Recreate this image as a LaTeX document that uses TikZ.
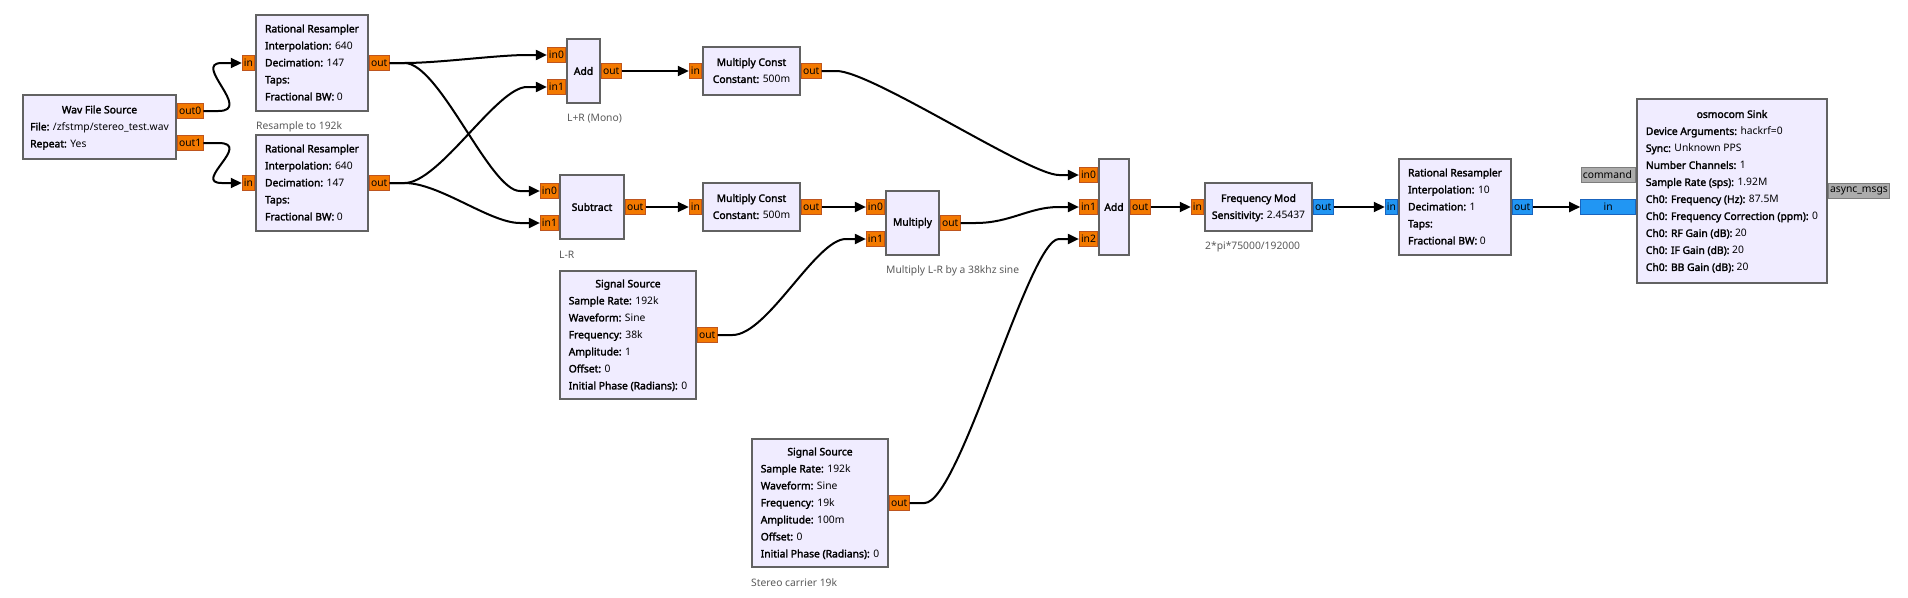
\documentclass[tikz,border=0pt]{standalone}
\usepackage{fontspec}
\setmainfont{Noto Sans}[BoldFont={Noto Sans}, BoldFeatures={FakeBold=2.2}]
\usepackage{array}
\usetikzlibrary{arrows.meta, calc, positioning}
\definecolor{blkfill}{RGB}{240,236,255}
\definecolor{blkedge}{RGB}{98,98,98}
\definecolor{fltport}{RGB}{243,121,0}
\definecolor{fltedge}{RGB}{190,85,30}
\definecolor{cpxport}{RGB}{33,150,243}
\definecolor{cpxedge}{RGB}{25,100,190}
\definecolor{msgport}{RGB}{172,172,172}
\definecolor{msgedge}{RGB}{125,125,125}
\definecolor{notegray}{RGB}{90,90,90}

\begin{document}
\begin{tikzpicture}[x=1pt, y=-1pt,
  blk/.style={draw=blkedge, line width=2pt, fill=blkfill, inner sep=0pt,
              font=\fontsize{10.3}{17}\selectfont},
  port/.style={line width=0.8pt, inner xsep=1.7pt, inner ysep=0pt,
               minimum height=15pt, font=\fontsize{10.3}{12}\selectfont},
  fport/.style={port, fill=fltport, draw=fltedge},
  cport/.style={port, fill=cpxport, draw=cpxedge},
  mport/.style={port, fill=msgport, draw=msgedge},
  note/.style={anchor=west, inner sep=0pt, text=notegray,
               font=\fontsize{10.3}{12}\selectfont},
  wire/.style={line width=2pt, -{Triangle[length=11pt, width=10pt]}},
  curvy/.style={to path={-- ++(15,0) .. controls +(35,0) and ($(\tikztotarget)+(-50,0)$)
                .. ($(\tikztotarget)+(-20,0)$) -- (\tikztotarget)}}
]
  \useasboundingbox[fill=white] (0,0) rectangle (1908,597);

  % Wav file source
  \node[blk, minimum width=153pt, minimum height=64pt] (wav) at (99.5,127)
    {\begin{tabular}{@{}l@{}}\multicolumn{1}{@{}c@{}}{\textbf{Wav File Source}}\\
     \textbf{File:} /zfstmp/stereo\_test.wav\\
     \textbf{Repeat:} Yes\end{tabular}};
  \node[fport, anchor=west] (wavo0) at ($(wav.east)+(0,-16)$) {out0};
  \node[fport, anchor=west] (wavo1) at ($(wav.east)+(0,16)$) {out1};

  % Resamplers to 192k
  \node[blk, minimum width=112pt, minimum height=96pt] (rr1) at (312,63)
    {\begin{tabular}{@{}l@{}}\multicolumn{1}{@{}c@{}}{\textbf{Rational Resampler}}\\
     \textbf{Interpolation:} 640\\
     \textbf{Decimation:} 147\\
     \textbf{Taps:}\\
     \textbf{Fractional BW:} 0\end{tabular}};
  \node[fport, anchor=east] (rr1i) at (rr1.west) {in};
  \node[fport, anchor=west] (rr1o) at (rr1.east) {out};
  \node[note] (rr1note) at ($(rr1.south west)+(1,15)$) {Resample to 192k};

  \node[blk, minimum width=112pt, minimum height=96pt] (rr2) at (312,183)
    {\begin{tabular}{@{}l@{}}\multicolumn{1}{@{}c@{}}{\textbf{Rational Resampler}}\\
     \textbf{Interpolation:} 640\\
     \textbf{Decimation:} 147\\
     \textbf{Taps:}\\
     \textbf{Fractional BW:} 0\end{tabular}};
  \node[fport, anchor=east] (rr2i) at (rr2.west) {in};
  \node[fport, anchor=west] (rr2o) at (rr2.east) {out};

  % L+R
  \node[blk, minimum width=33pt, minimum height=64pt] (add1) at (583.5,71)
    {\textbf{Add}};
  \node[fport, anchor=east] (add1i0) at ($(add1.west)+(0,-16)$) {in0};
  \node[fport, anchor=east] (add1i1) at ($(add1.west)+(0,16)$) {in1};
  \node[fport, anchor=west] (add1o) at (add1.east) {out};
  \node[note] (add1note) at ($(add1.south west)+(1,15)$) {L+R (Mono)};

  \node[blk, minimum width=97pt, minimum height=48pt] (mc1) at (751.5,71)
    {\begin{tabular}{@{}l@{}}\multicolumn{1}{@{}c@{}}{\textbf{Multiply Const}}\\
     \textbf{Constant:} 500m\end{tabular}};
  \node[fport, anchor=east] (mc1i) at (mc1.west) {in};
  \node[fport, anchor=west] (mc1o) at (mc1.east) {out};

  % L-R
  \node[blk, minimum width=64pt, minimum height=64pt] (sub) at (592,207)
    {\textbf{Subtract}};
  \node[fport, anchor=east] (subi0) at ($(sub.west)+(0,-16)$) {in0};
  \node[fport, anchor=east] (subi1) at ($(sub.west)+(0,16)$) {in1};
  \node[fport, anchor=west] (subo) at (sub.east) {out};
  \node[note] (subnote) at ($(sub.south west)+(0,15)$) {L-R};

  \node[blk, minimum width=97pt, minimum height=48pt] (mc2) at (751.5,207)
    {\begin{tabular}{@{}l@{}}\multicolumn{1}{@{}c@{}}{\textbf{Multiply Const}}\\
     \textbf{Constant:} 500m\end{tabular}};
  \node[fport, anchor=east] (mc2i) at (mc2.west) {in};
  \node[fport, anchor=west] (mc2o) at (mc2.east) {out};

  % 38k subcarrier
  \node[blk, minimum width=136pt, minimum height=128pt] (sig1) at (628,335)
    {\begin{tabular}{@{}l@{}}\multicolumn{1}{@{}c@{}}{\textbf{Signal Source}}\\
     \textbf{Sample Rate:} 192k\\
     \textbf{Waveform:} Sine\\
     \textbf{Frequency:} 38k\\
     \textbf{Amplitude:} 1\\
     \textbf{Offset:} 0\\
     \textbf{Initial Phase (Radians):} 0\end{tabular}};
  \node[fport, anchor=west] (sig1o) at (sig1.east) {out};

  \node[blk, minimum width=53pt, minimum height=64pt] (mul) at (912.5,223)
    {\textbf{Multiply}};
  \node[fport, anchor=east] (muli0) at ($(mul.west)+(0,-16)$) {in0};
  \node[fport, anchor=east] (muli1) at ($(mul.west)+(0,16)$) {in1};
  \node[fport, anchor=west] (mulo) at (mul.east) {out};
  \node[note] (mulnote) at ($(mul.south west)+(1,15)$) {Multiply L-R by a 38khz sine};

  % 19k pilot
  \node[blk, minimum width=136pt, minimum height=128pt] (sig2) at (820,503)
    {\begin{tabular}{@{}l@{}}\multicolumn{1}{@{}c@{}}{\textbf{Signal Source}}\\
     \textbf{Sample Rate:} 192k\\
     \textbf{Waveform:} Sine\\
     \textbf{Frequency:} 19k\\
     \textbf{Amplitude:} 100m\\
     \textbf{Offset:} 0\\
     \textbf{Initial Phase (Radians):} 0\end{tabular}};
  \node[fport, anchor=west] (sig2o) at (sig2.east) {out};
  \node[note] (sig2note) at ($(sig2.south west)+(0,15)$) {Stereo carrier 19k};

  % MPX sum
  \node[blk, minimum width=30pt, minimum height=96pt] (add2) at (1114,207)
    {\textbf{Add}};
  \node[fport, anchor=east] (add2i0) at ($(add2.west)+(0,-32)$) {in0};
  \node[fport, anchor=east] (add2i1) at (add2.west) {in1};
  \node[fport, anchor=east] (add2i2) at ($(add2.west)+(0,32)$) {in2};
  \node[fport, anchor=west] (add2o) at (add2.east) {out};

  % FM and output
  \node[blk, minimum width=107pt, minimum height=48pt] (fm) at (1258.5,207)
    {\begin{tabular}{@{}l@{}}\multicolumn{1}{@{}c@{}}{\textbf{Frequency Mod}}\\
     \textbf{Sensitivity:} 2.45437\end{tabular}};
  \node[fport, anchor=east] (fmi) at (fm.west) {in};
  \node[cport, anchor=west] (fmo) at (fm.east) {out};
  \node[note] (fmnote) at ($(fm.south west)+(1,15)$) {2*pi*75000/192000};

  \node[blk, minimum width=112pt, minimum height=96pt] (rr3) at (1455,207)
    {\begin{tabular}{@{}l@{}}\multicolumn{1}{@{}c@{}}{\textbf{Rational Resampler}}\\
     \textbf{Interpolation:} 10\\
     \textbf{Decimation:} 1\\
     \textbf{Taps:}\\
     \textbf{Fractional BW:} 0\end{tabular}};
  \node[cport, anchor=east] (rr3i) at (rr3.west) {in};
  \node[cport, anchor=west] (rr3o) at (rr3.east) {out};

  \node[blk, minimum width=190pt, minimum height=184pt] (snk) at (1732,191)
    {\begin{tabular}{@{}l@{}}\multicolumn{1}{@{}c@{}}{\textbf{osmocom Sink}}\\
     \textbf{Device Arguments:} hackrf=0\\
     \textbf{Sync:} Unknown PPS\\
     \textbf{Number Channels:} 1\\
     \textbf{Sample Rate (sps):} 1.92M\\
     \textbf{Ch0: Frequency (Hz):} 87.5M\\
     \textbf{Ch0: Frequency Correction (ppm):} 0\\
     \textbf{Ch0: RF Gain (dB):} 20\\
     \textbf{Ch0: IF Gain (dB):} 20\\
     \textbf{Ch0: BB Gain (dB):} 20\end{tabular}};
  \node[mport, anchor=east, text width=51pt, align=left] (snkcmd)
    at ($(snk.west)+(0,-16)$) {command};
  \node[cport, anchor=east, minimum width=55pt] (snki) at ($(snk.west)+(0,16)$) {in};
  \node[mport, anchor=west] (snkmsg) at (snk.east) {async\_msgs};

  % Connections
  \draw[wire] (wavo0.east) to[curvy] (rr1i.west);
  \draw[wire] (wavo1.east) to[curvy] (rr2i.west);
  \draw[wire] (rr1o.east) to[curvy] (add1i0.west);
  \draw[wire] (rr1o.east) to[curvy] (subi0.west);
  \draw[wire] (rr2o.east) to[curvy] (add1i1.west);
  \draw[wire] (rr2o.east) to[curvy] (subi1.west);
  \draw[wire] (add1o.east) -- (mc1i.west);
  \draw[wire] (subo.east) -- (mc2i.west);
  \draw[wire] (mc2o.east) -- (muli0.west);
  \draw[wire] (sig1o.east) to[curvy] (muli1.west);
  \draw[wire] (mc1o.east) to[curvy] (add2i0.west);
  \draw[wire] (mulo.east) to[curvy] (add2i1.west);
  \draw[wire] (sig2o.east) to[curvy] (add2i2.west);
  \draw[wire] (add2o.east) -- (fmi.west);
  \draw[wire] (fmo.east) -- (rr3i.west);
  \draw[wire] (rr3o.east) -- (snki.west);
\end{tikzpicture}
\end{document}
